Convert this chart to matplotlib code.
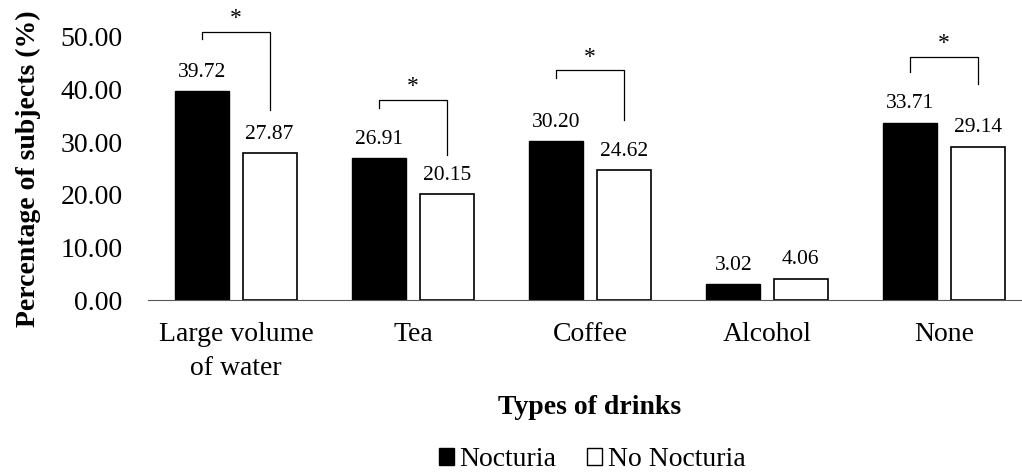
import numpy as np
import matplotlib
matplotlib.use('Agg')
import matplotlib.pyplot as plt
from matplotlib.patches import Patch

plt.rcParams['font.family'] = ['Liberation Serif', 'DejaVu Serif']

categories = ['Large volume\nof water', 'Tea', 'Coffee', 'Alcohol', 'None']
nocturia = [39.72, 26.91, 30.20, 3.02, 33.71]
no_nocturia = [27.87, 20.15, 24.62, 4.06, 29.14]
yticks = [0, 10, 20, 30, 40, 50]

# significance brackets: group index, top, left leg end, right leg end
sig_groups = [0, 1, 2, 4]
sig_top = [51.0, 38.0, 43.7, 46.2]
sig_left = [49.6, 36.5, 42.2, 43.3]
sig_right = [36.1, 27.6, 34.2, 41.1]

fig = plt.figure(figsize=(10.22, 4.74), dpi=100)
ax = fig.add_axes([147.5/1022, 1-300/474, 885/1022, (300-37)/474])

x = np.arange(len(categories))
w = 0.305
off = 0.19
ax.bar(x - off, nocturia, w, color='black', edgecolor='black', linewidth=1)
ax.bar(x + off, no_nocturia, w, color='white', edgecolor='black', linewidth=1.2)

for i in range(len(categories)):
    ax.text(x[i] - off, nocturia[i] + 3.6, '%.2f' % nocturia[i], ha='center', va='center', fontsize=15.5)
    ax.text(x[i] + off, no_nocturia[i] + 3.6, '%.2f' % no_nocturia[i], ha='center', va='center', fontsize=15.5)

for g, t, l, r in zip(sig_groups, sig_top, sig_left, sig_right):
    ax.plot([x[g] - off, x[g] - off, x[g] + off, x[g] + off], [l, t, t, r],
            color='black', lw=0.9, clip_on=False)
    ax.text(x[g], t + 0.5, '*', ha='center', va='bottom', fontsize=17, clip_on=False)

ax.set_xlim(-0.5, len(categories) - 0.5)
ax.set_ylim(0, 50)
ax.set_yticks(yticks)
ax.set_yticklabels(['%.2f' % v for v in yticks], fontsize=20)
ax.set_xticks(x)
ax.set_xticklabels(categories, fontsize=20, linespacing=1.45)
ax.tick_params(axis='both', length=0)
ax.tick_params(axis='y', pad=18)
ax.tick_params(axis='x', pad=16)
for s in ['top', 'right', 'left']:
    ax.spines[s].set_visible(False)
ax.spines['bottom'].set_color('#595959')

ax.set_ylabel('Percentage of subjects (%)', fontsize=20, fontweight='bold', labelpad=14)
ax.set_xlabel('Types of drinks', fontsize=20, fontweight='bold', labelpad=10)

handles = [Patch(facecolor='black', edgecolor='black'),
           Patch(facecolor='white', edgecolor='black')]
fig.legend(handles, ['Nocturia', 'No Nocturia'], loc='center', bbox_to_anchor=(592/1022, 1-460/474),
           ncol=2, frameon=False, fontsize=20, handlelength=0.55, handleheight=0.55,
           handletextpad=0.2, columnspacing=1.1, borderpad=0)

fig.savefig('out.png', dpi=100)
